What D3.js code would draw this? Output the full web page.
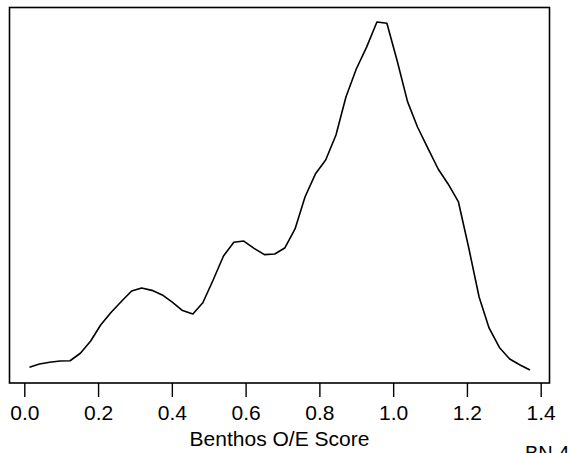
<!DOCTYPE html>
<html>
<head>
<meta charset="utf-8">
<script src="https://cdn.jsdelivr.net/npm/d3@7"></script>
<style>
  body { margin: 0; background: #fff; }
  svg { display: block; font-family: "Liberation Sans", Arial, sans-serif; }
</style>
</head>
<body>
<div id="chart"></div>
<script>
// density estimate of Benthos O/E scores
var scores = [0.014, 0.041, 0.069, 0.097, 0.124, 0.152, 0.180, 0.207, 0.235, 0.263,
              0.291, 0.318, 0.346, 0.374, 0.402, 0.429, 0.457, 0.484, 0.512, 0.540,
              0.568, 0.595, 0.623, 0.651, 0.679, 0.706, 0.734, 0.761, 0.789, 0.817,
              0.845, 0.872, 0.900, 0.928, 0.956, 0.983, 1.011, 1.039, 1.066, 1.094,
              1.122, 1.149, 1.177, 1.205, 1.233, 1.260, 1.288, 1.316, 1.344, 1.371];
var density = [0.092, 0.112, 0.122, 0.129, 0.131, 0.175, 0.247, 0.341, 0.415, 0.479,
               0.541, 0.559, 0.545, 0.518, 0.474, 0.426, 0.406, 0.472, 0.606, 0.747,
               0.828, 0.835, 0.792, 0.755, 0.759, 0.794, 0.906, 1.094, 1.229, 1.312,
               1.459, 1.682, 1.847, 1.976, 2.124, 2.116, 1.894, 1.655, 1.506, 1.382,
               1.259, 1.171, 1.065, 0.794, 0.506, 0.324, 0.209, 0.141, 0.106, 0.076];
var xTicks = [0, 0.2, 0.4, 0.6, 0.8, 1.0, 1.2, 1.4];
var xLabel = "Benthos O/E Score";
var cornerLabel = "BN 4";

var W = 569, H = 453;
var box = { left: 9.5, right: 549.5, top: 7.5, bottom: 383 };

var svg = d3.select("#chart").append("svg")
    .attr("width", W)
    .attr("height", H);

// scales
var x = d3.scaleLinear().domain([0, 1.4]).range([24.3, 540.7]);
var y = d3.scaleLinear().domain([0, 2.206]).range([383, 8]);

var pts = scores.map(function (s, i) { return [s, density[i]]; });

// the curve
svg.append("path")
    .datum(pts)
    .attr("fill", "none")
    .attr("stroke", "#000")
    .attr("stroke-width", 1.6)
    .attr("stroke-linejoin", "round")
    .attr("d", d3.line()
        .x(function (d) { return x(d[0]); })
        .y(function (d) { return y(d[1]); }));

// frame
svg.append("rect")
    .attr("x", box.left)
    .attr("y", box.top)
    .attr("width", box.right - box.left)
    .attr("height", box.bottom - box.top)
    .attr("fill", "none")
    .attr("stroke", "#000")
    .attr("stroke-width", 1.6);

// x axis
var xAxis = svg.append("g")
    .attr("transform", "translate(0," + box.bottom + ")")
    .call(d3.axisBottom(x)
        .tickValues(xTicks)
        .tickSize(14)
        .tickPadding(8)
        .tickFormat(d3.format(".1f")));
xAxis.select(".domain").remove();
xAxis.selectAll(".tick line").attr("stroke", "#000").attr("stroke-width", 1.4);
xAxis.selectAll(".tick text")
    .attr("fill", "#000")
    .style("font-size", "21px")
    .style("font-family", "'Liberation Sans', Arial, sans-serif");

// axis title
svg.append("text")
    .attr("x", (box.left + box.right) / 2)
    .attr("y", 446)
    .attr("text-anchor", "middle")
    .style("font-size", "21px")
    .text(xLabel);

// corner label, partly cut off by the page edge as in the original
svg.append("text")
    .attr("x", 525)
    .attr("y", 460)
    .attr("text-anchor", "start")
    .style("font-size", "20px")
    .text(cornerLabel);
</script>
</body>
</html>
